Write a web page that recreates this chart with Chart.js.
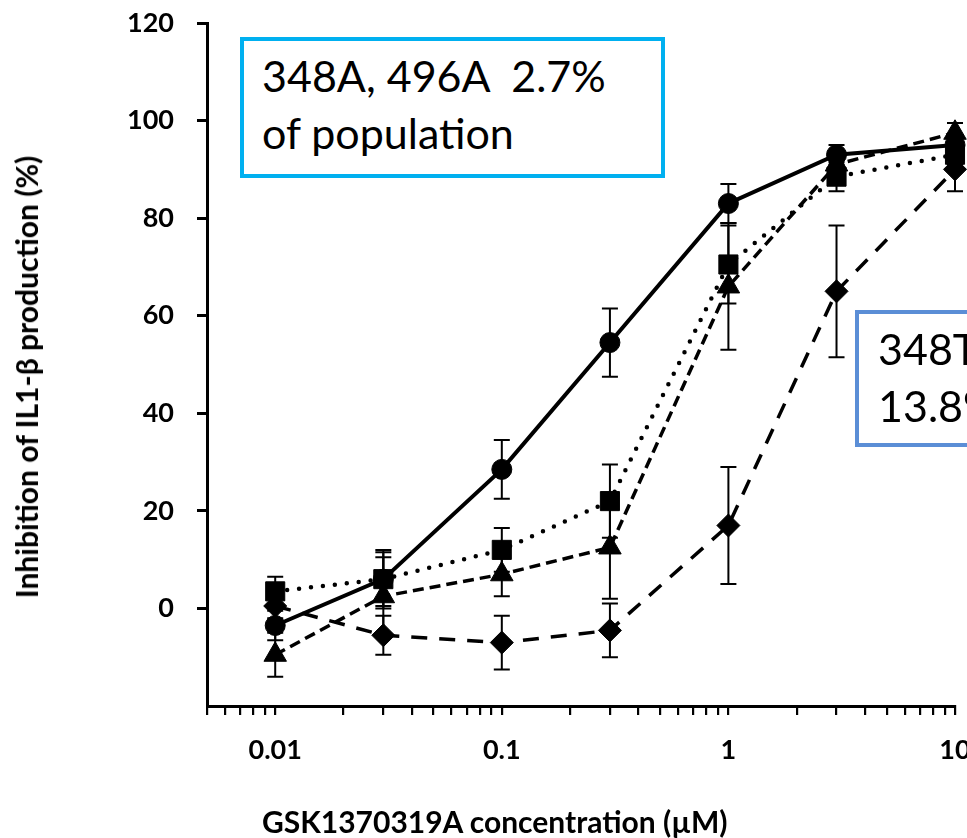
<!DOCTYPE html>
<html>
<head>
<meta charset="utf-8">
<script src="https://cdn.jsdelivr.net/npm/chart.js@4.4.1/dist/chart.umd.min.js"></script>
<style>
  html, body { margin:0; padding:0; background:#fff; overflow:hidden; width:967px; height:838px; }
  #wrap { position:absolute; left:0; top:0; width:1100px; height:838px; }
  .box { position:absolute; background:#fff; font-family: Lato, "Open Sans", sans-serif; color:#000;
         font-size:43px; line-height:57px; white-space:pre; box-sizing:border-box; }
  #box1 { left:240px; top:37px; width:425px; height:141px; border:4px solid #00B0F0; padding:6px 0 0 18px; }
  #box2 { left:855px; top:310px; width:240px; height:137px; border:4px solid #5B8ED6; padding:6px 0 0 19px; }
  .axtitle { position:absolute; font-family: Lato, "Open Sans", sans-serif; font-weight:bold;
             font-size:30px; line-height:36px; color:#000; white-space:pre; }
  #xtitle { left:262px; top:803px; }
  #ytitle { left:26px; top:377px; transform: translate(-50%, -50%) rotate(-90deg); }
</style>
</head>
<body>
<div id="wrap"><canvas id="c"></canvas></div>
<div class="box" id="box1">348A, 496A  2.7%
of population</div>
<div class="box" id="box2">348T, 496A
13.8% of population</div>
<div class="axtitle" id="xtitle">GSK1370319A concentration (µM)</div>
<div class="axtitle" id="ytitle">Inhibition of IL1-β production (%)</div>
<script>
// ---- data ----
const concentrations = [0.01, 0.03, 0.1, 0.3, 1, 3, 10];
const xTickValues = [0.01, 0.1, 1, 10];
const xTickLabels = ['0.01', '0.1', '1', '10'];
const yTickValues = [0, 20, 40, 60, 80, 100, 120];

const circleMean   = [-3.5, 6, 28.5, 54.5, 83, 93, 95];
const circleErr    = [3, 5.5, 6, 7, 4, 2, 2];
const squareMean   = [3.5, 6, 12, 22, 70.5, 88.5, 93];
const squareErr    = [3, 6, 4.5, 7.5, 8, 3, 2];
const triangleMean = [-9.5, 2.5, 7, 12.5, 66, 91, 97.5];
const triangleErr  = [4.5, 8, 4.5, 10.5, 13, 2.5, 2];
const diamondMean  = [0.5, -5.5, -7, -4.5, 17, 65, 90];
const diamondErr   = [2.5, 4, 5.5, 5.5, 12, 13.5, 4.5];

const series = [
  { mean: circleMean,   err: circleErr,   style: 'circle',   radius: 10,   dash: [],      width: 4,   cap: 'butt' },
  { mean: squareMean,   err: squareErr,   style: 'rect',     radius: 13.5, dash: [0, 12], width: 4.5, cap: 'round' },
  { mean: triangleMean, err: triangleErr, style: 'triangle', radius: 13,   dash: [11, 6], width: 3.5, cap: 'butt' },
  { mean: diamondMean,  err: diamondErr,  style: 'rectRot',  radius: 11.5, dash: [16, 12], width: 3.5, cap: 'butt' }
];

const FONT = 'Lato, "Open Sans", sans-serif';

const errorBars = {
  id: 'errorBars',
  beforeDatasetsDraw(chart) {
    const { ctx, scales: { x, y } } = chart;
    ctx.save();
    ctx.strokeStyle = '#000';
    ctx.lineWidth = 2;
    ctx.setLineDash([]);
    series.forEach(s => {
      concentrations.forEach((c, i) => {
        const e = s.err[i];
        if (!e) return;
        const px = x.getPixelForValue(c);
        const top = y.getPixelForValue(s.mean[i] + e);
        const bot = y.getPixelForValue(s.mean[i] - e);
        ctx.beginPath();
        ctx.moveTo(px, top); ctx.lineTo(px, bot);
        ctx.moveTo(px - 8, top); ctx.lineTo(px + 8, top);
        ctx.moveTo(px - 8, bot); ctx.lineTo(px + 8, bot);
        ctx.stroke();
      });
    });
    ctx.restore();
  }
};

new Chart(document.getElementById('c'), {
  type: 'line',
  data: {
    datasets: series.map(s => ({
      data: concentrations.map((c, i) => ({ x: c, y: s.mean[i] })),
      borderColor: '#000',
      backgroundColor: '#000',
      borderWidth: s.width,
      borderDash: s.dash,
      borderCapStyle: s.cap,
      pointStyle: s.style,
      pointRadius: s.radius,
      pointBorderWidth: 1,
      pointBackgroundColor: '#000',
      pointBorderColor: '#000',
      tension: 0,
      clip: false,
      fill: false
    }))
  },
  options: {
    responsive: true,
    maintainAspectRatio: false,
    animation: false,
    events: [],
    layout: { padding: { left: 0, top: 23, right: 145, bottom: 0 } },
    plugins: { legend: { display: false }, tooltip: { enabled: false } },
    scales: {
      x: {
        type: 'logarithmic',
        min: 0.005,
        max: 10,
        afterBuildTicks(scale) {
          const t = [];
          for (let e = -3; e <= 1; e++) {
            for (let m = 1; m <= 9; m++) {
              const v = +(m * Math.pow(10, e)).toPrecision(6);
              if (v >= 0.005 && v <= 10) t.push({ value: v });
            }
          }
          scale.ticks = t;
        },
        ticks: {
          autoSkip: false,
          maxRotation: 0,
          color: '#000',
          padding: 19,
          font: { family: FONT, size: 27, weight: 'bold' },
          callback(value) {
            const k = xTickValues.findIndex(v => Math.abs(v - value) < 1e-9);
            return k >= 0 ? xTickLabels[k] : '';
          }
        },
        grid: { drawOnChartArea: false, drawTicks: true, tickLength: 9, color: '#000', lineWidth: 2.2 },
        border: { display: true, color: '#000', width: 3 },
        afterFit(scale) { scale.height = 132; scale.paddingLeft = 0; }
      },
      y: {
        type: 'linear',
        min: -20,
        max: 120,
        afterBuildTicks(scale) {
          scale.ticks = yTickValues.map(v => ({ value: v }));
        },
        ticks: {
          color: '#000',
          padding: 23,
          font: { family: FONT, size: 27, weight: 'bold' },
          callback: v => String(v)
        },
        grid: { drawOnChartArea: false, drawTicks: true, tickLength: 10, color: '#000', lineWidth: 3 },
        border: { display: true, color: '#000', width: 3 },
        afterFit(scale) { scale.width = 207; scale.paddingTop = 0; scale.paddingBottom = 0; }
      }
    }
  },
  plugins: [errorBars]
});
</script>
</body>
</html>
